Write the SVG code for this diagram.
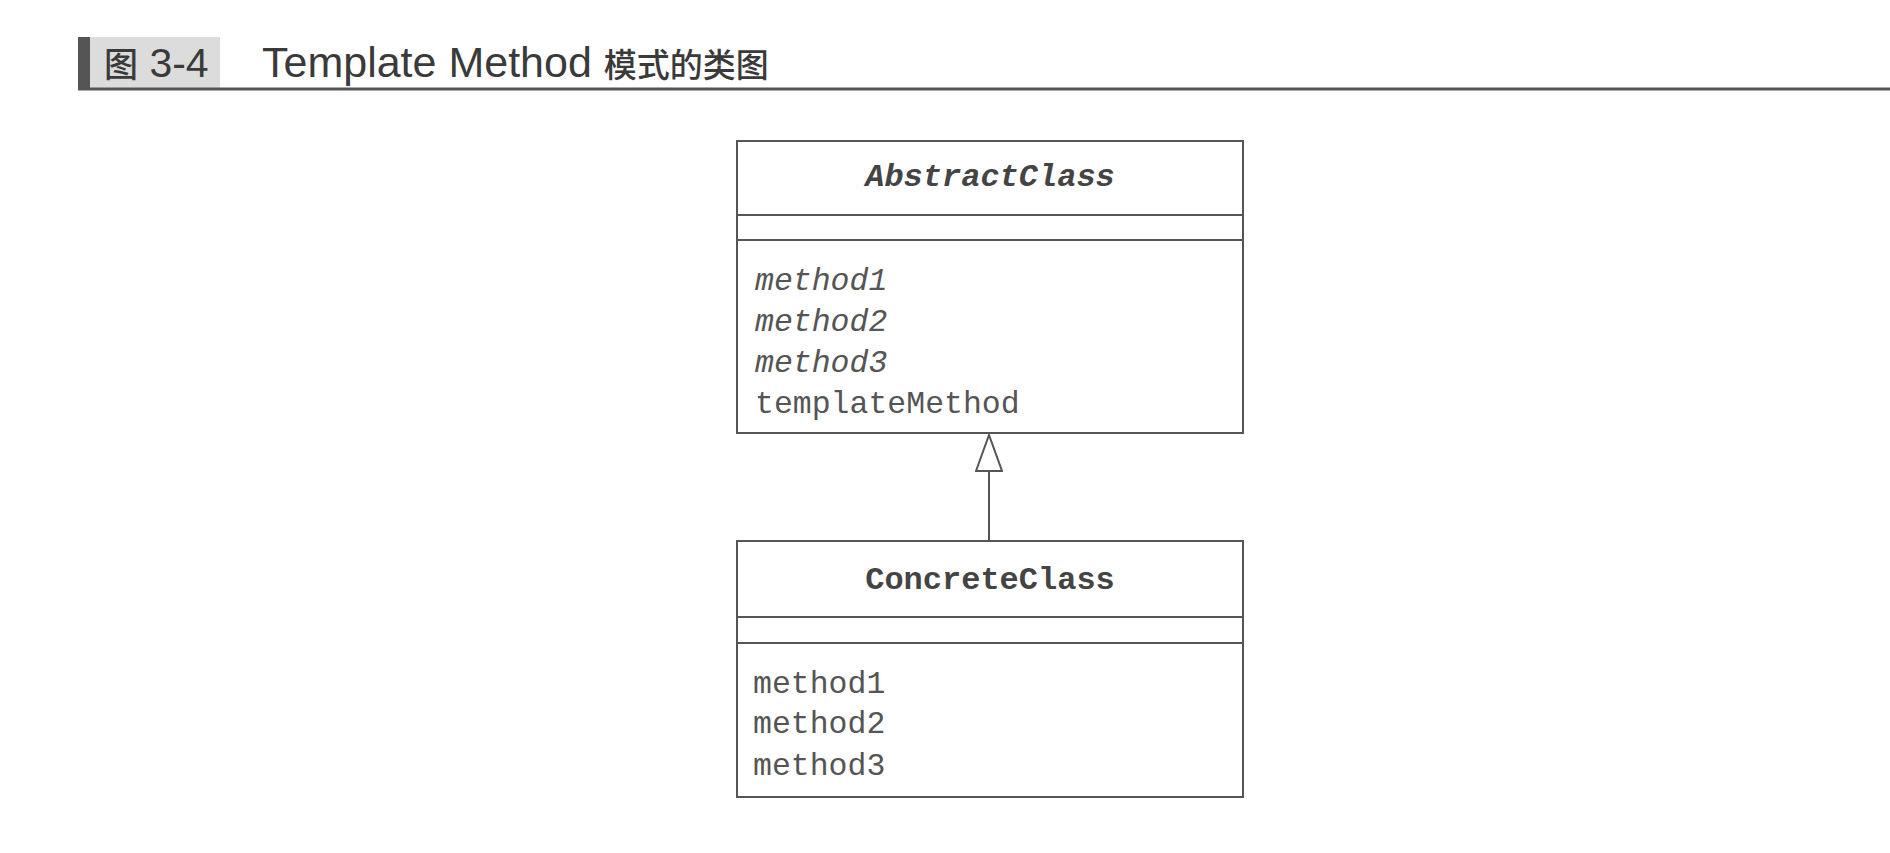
<svg xmlns="http://www.w3.org/2000/svg" width="1890" height="853" viewBox="0 0 1890 853">
<defs>
<style>
.box{fill:#fff;stroke:#555;stroke-width:2}
.div{stroke:#555;stroke-width:2}
.name{font-family:"Liberation Mono","DejaVu Sans Mono",monospace;font-size:32px;font-weight:bold;fill:#444;text-anchor:middle}
.meth{font-family:"Liberation Mono","DejaVu Sans Mono",monospace;font-size:31.5px;fill:#555}
.it{font-style:italic}
.title{font-family:"Liberation Sans",Arial,"Noto Sans CJK SC",sans-serif;fill:#3a3a3a}
.cjk{font-family:"Noto Sans CJK SC","Liberation Sans",sans-serif;font-weight:500}
</style>
<marker id="inherit" viewBox="0 0 40 28" refX="38" refY="14" markerWidth="40" markerHeight="28" markerUnits="userSpaceOnUse" orient="auto">
<path d="M2,1 L38,14 L2,27 Z" fill="#fff" stroke="#555" stroke-width="2"/>
</marker>
</defs>
<rect width="1890" height="853" fill="#fff"/>
<g id="title">
<rect x="78" y="37" width="142" height="52" fill="#dcdcdc"/>
<rect x="78" y="37" width="12" height="52" fill="#555"/>
<line x1="78" y1="89" x2="1890" y2="89" stroke="#555" stroke-width="3"/>
<text class="title" x="104" y="77" font-size="41"><tspan class="cjk" font-size="34">图</tspan> 3-4</text>
<text class="title" x="262" y="77" font-size="43">Template Method <tspan class="cjk" font-size="33">模式的类图</tspan></text>
</g>
<g id="connectors">
<line x1="989" y1="541" x2="989" y2="435" stroke="#555" stroke-width="2" marker-end="url(#inherit)"/>
</g>
<g id="AbstractClass">
<rect class="box" x="737" y="141" width="506" height="292"/>
<line class="div" x1="737" y1="215" x2="1243" y2="215"/>
<line class="div" x1="737" y1="240" x2="1243" y2="240"/>
<text class="name it" x="990" y="186">AbstractClass</text>
<text class="meth it" x="755" y="290">method1</text>
<text class="meth it" x="755" y="331">method2</text>
<text class="meth it" x="755" y="372">method3</text>
<text class="meth" x="755" y="413">templateMethod</text>
</g>
<g id="ConcreteClass">
<rect class="box" x="737" y="541" width="506" height="256"/>
<line class="div" x1="737" y1="617" x2="1243" y2="617"/>
<line class="div" x1="737" y1="643" x2="1243" y2="643"/>
<text class="name" x="990" y="589">ConcreteClass</text>
<text class="meth" x="753" y="693">method1</text>
<text class="meth" x="753" y="733">method2</text>
<text class="meth" x="753" y="775">method3</text>
</g>
</svg>
